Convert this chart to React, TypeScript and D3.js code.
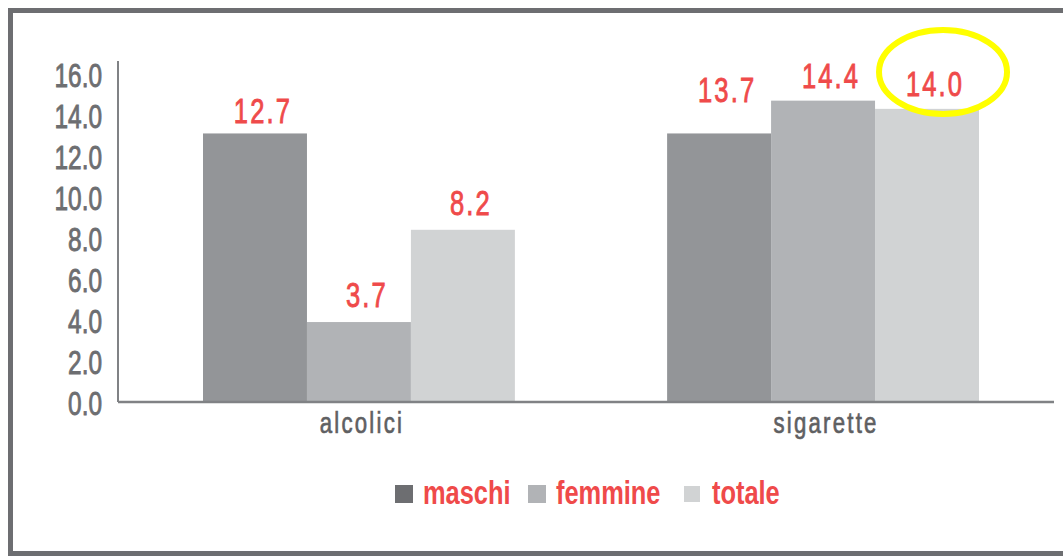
import React from "react";
import { scaleBand, scaleLinear, range, format } from "d3";

// data
const categories = ["alcolici", "sigarette"];
const series = ["maschi", "femmine", "totale"];
// bar heights as drawn in the reference
const barValues = [
  [13.1, 3.9, 8.4],
  [13.1, 14.7, 14.3],
];
// values printed above the bars
const labelValues = [
  [12.7, 3.7, 8.2],
  [13.7, 14.4, 14.0],
];
const yTicks = range(0, 16.1, 2);
const highlighted = { cat: 1, ser: 2 };

const barColors = ["#939598", "#b1b3b6", "#d1d3d4"];
const legendColors = ["#6d6e71", "#b1b3b6", "#d1d3d4"];
const RED = "#ef4a4a";
const FONT = "'Liberation Sans', Arial, sans-serif";

const W = 1063;
const H = 556;

// condensed text: the reference uses a narrow typeface, so squeeze horizontally
function NarrowText({ x, y, sx = 0.75, children, ...rest }: any) {
  return (
    <g transform={`translate(${x},${y}) scale(${sx},1)`}>
      <text x={0} y={0} {...rest}>
        {children}
      </text>
    </g>
  );
}

export default function App() {
  const y = scaleLinear().domain([0, 16]).range([402, 74]);
  const x0 = scaleBand().domain(categories).range([203, 979]).paddingInner(0.328);
  const x1 = scaleBand().domain(series).range([0, x0.bandwidth()]);
  const fmt = format(".1f");
  const axisX = 118;

  const legendX = [395, 528, 684];
  const legendSize = [18, 18, 16];

  const hiX = x0(categories[highlighted.cat])! + x1(series[highlighted.ser])! + x1.bandwidth() / 2;
  const hiY = y(labelValues[highlighted.cat][highlighted.ser]);

  return (
    <svg
      width={W}
      height={H}
      style={{ position: "absolute", left: 0, top: 0, background: "#fff" }}
      fontFamily={FONT}
    >
      {/* frame */}
      <rect x={10.5} y={10.5} width={W + 20} height={543} fill="none" stroke="#6d6e71" strokeWidth={5} />

      {/* bars */}
      {categories.map((c, ci) =>
        series.map((s, si) => (
          <rect
            key={c + s}
            x={x0(c)! + x1(s)!}
            y={y(barValues[ci][si])}
            width={x1.bandwidth()}
            height={y(0) - y(barValues[ci][si])}
            fill={barColors[si]}
          />
        ))
      )}

      {/* axes */}
      <line x1={axisX} x2={axisX} y1={y(16) - 13} y2={y(0)} stroke="#808285" strokeWidth={2} />
      <line x1={axisX} x2={1054} y1={y(0)} y2={y(0)} stroke="#808285" strokeWidth={2.5} />
      {yTicks.map((t) => (
        <NarrowText
          key={t}
          x={axisX - 16}
          y={y(t) + 13}
          sx={0.74}
          textAnchor="end"
          fontSize={33}
          fill="#6d6e71"
          stroke="#6d6e71"
          strokeWidth={0.9}
        >
          {fmt(t)}
        </NarrowText>
      ))}
      {categories.map((c) => (
        <NarrowText
          key={c}
          x={x0(c)! + x0.bandwidth() / 2 + 3}
          y={433}
          sx={0.74}
          textAnchor="middle"
          fontSize={30}
          letterSpacing={3}
          fill="#5f6062"
          stroke="#5f6062"
          strokeWidth={0.7}
        >
          {c}
        </NarrowText>
      ))}

      {/* value labels */}
      {categories.map((c, ci) =>
        series.map((s, si) => (
          <NarrowText
            key={"l" + c + s}
            x={x0(c)! + x1(s)! + x1.bandwidth() / 2 + 8}
            y={y(labelValues[ci][si]) - 19}
            sx={0.71}
            textAnchor="middle"
            fontSize={36}
            letterSpacing={3}
            fill={RED}
            stroke={RED}
            strokeWidth={0.9}
          >
            {fmt(labelValues[ci][si])}
          </NarrowText>
        ))
      )}

      {/* highlight ring */}
      <ellipse
        cx={hiX + 16}
        cy={hiY - 43}
        rx={64}
        ry={42}
        fill="none"
        stroke="#ffff00"
        strokeWidth={6}
      />

      {/* legend */}
      {series.map((s, i) => (
        <g key={"lg" + s}>
          <rect
            x={legendX[i]}
            y={494 - legendSize[i] / 2}
            width={legendSize[i]}
            height={legendSize[i]}
            fill={legendColors[i]}
          />
          <NarrowText
            x={legendX[i] + 28}
            y={504}
            sx={0.77}
            fontSize={33}
            fontWeight="bold"
            fill={RED}
          >
            {s}
          </NarrowText>
        </g>
      ))}
    </svg>
  );
}
